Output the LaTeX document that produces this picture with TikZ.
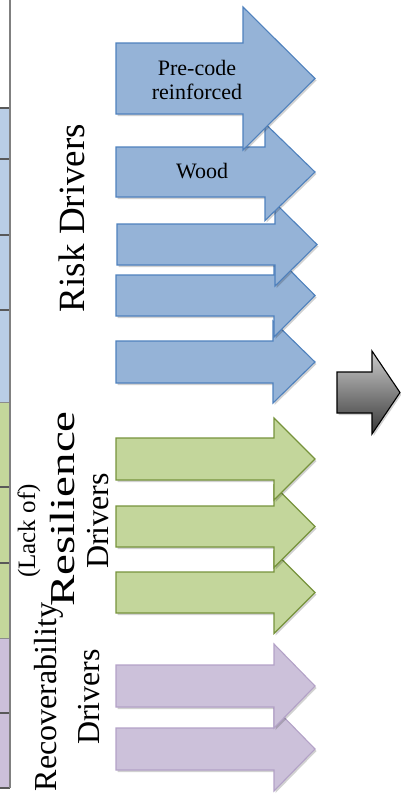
\documentclass[tikz,border=0pt]{standalone}
\usepackage{graphicx}
\usepackage{fontspec}
\setmainfont{Liberation Serif}
\usetikzlibrary{shadows}

\definecolor{blueFill}{HTML}{95B3D7}
\definecolor{blueLine}{HTML}{4F81BD}
\definecolor{greenFill}{HTML}{C3D69B}
\definecolor{greenLine}{HTML}{77933C}
\definecolor{purpFill}{HTML}{CCC1DA}
\definecolor{purpLine}{HTML}{B3A2C7}
\definecolor{stripBlue}{HTML}{B9CDE5}
\definecolor{stripGreen}{HTML}{C4D79B}
\definecolor{stripPurp}{HTML}{CCC0DA}
\definecolor{sepGray}{HTML}{595959}

% block arrow: style, tail x, centre y, shaft half-height, head base x, tip x, head half-height
\newcommand\blockarrow[7]{%
  \path[#1] (#2,#3-#4) -- (#5,#3-#4) -- (#5,#3-#7) -- (#6,#3)
    -- (#5,#3+#7) -- (#5,#3+#4) -- (#2,#3+#4) -- cycle;}

\tikzset{
  softshadow/.style={drop shadow={shadow xshift=1.5pt, shadow yshift=-2pt,
      opacity=0.18, fill=black}},
  riskarrow/.style={softshadow, fill=blueFill, draw=blueLine, line width=1.1pt, line join=miter},
  resarrow/.style={softshadow, fill=greenFill, draw=greenLine, line width=1.1pt, line join=miter},
  recarrow/.style={softshadow, fill=purpFill, draw=purpLine, line width=1.1pt, line join=miter},
  grayarrow/.style={softshadow, top color=black!20, bottom color=black!78,
      draw=black, line width=1.1pt, line join=miter},
  sep/.style={draw=sepGray, line width=1.2pt},
  vlabel/.style={rotate=90, inner sep=0pt, align=center},
}

\begin{document}
\begin{tikzpicture}[x=1pt, y=-1pt]
\useasboundingbox (0,0) rectangle (401,795);
\clip (0,0) rectangle (401,795);

% coloured table edge on the left
\fill[stripBlue]  (0,108) rectangle (10,402);
\fill[stripGreen] (0,402) rectangle (10,638);
\fill[stripPurp]  (0,638) rectangle (10,788);
\foreach \yy in {108,159,235,310,487,563,713,788}
  \draw[sep] (0,\yy) -- (10,\yy);
\draw[draw=black!45, line width=0.6pt] (0,402) -- (10,402);
\draw[draw=black!45, line width=0.6pt] (0,638) -- (10,638);
\draw[draw=black!50, line width=1.6pt] (10,0) -- (10,788);

% risk drivers (drawn from the bottom up so the upper heads overlap)
\blockarrow{riskarrow}{116}{362}{21}{273}{315}{41}
\blockarrow{riskarrow}{116}{295.5}{20.5}{274}{315}{41.5}
\blockarrow{riskarrow}{117}{244.5}{20.5}{275}{317}{41.5}
\blockarrow{riskarrow}{116}{172}{25}{265}{315}{48.5}
\blockarrow{riskarrow}{116}{78.5}{35.5}{243}{315}{71.5}

% resilience drivers
\blockarrow{resarrow}{116}{592.5}{20.5}{274}{315}{41}
\blockarrow{resarrow}{116}{526.5}{20.5}{274}{315}{41}
\blockarrow{resarrow}{116}{459}{21}{274}{315}{41}

% recoverability drivers
\blockarrow{recarrow}{116}{749}{21}{274}{315}{42}
\blockarrow{recarrow}{116}{686}{21}{274}{315}{42}

% result arrow
\blockarrow{grayarrow}{337}{392.5}{20.5}{372}{400}{41.5}

% labels on the arrows
\node[align=center, inner sep=0pt, font=\fontsize{22}{24}\selectfont]
  (precode) at (197,79.5) {Pre-code\\reinforced};
\node[anchor=base, inner sep=0pt, font=\fontsize{22}{24}\selectfont]
  (wood) at (202,178) {Wood};

% group labels
\node[vlabel, anchor=base, font=\fontsize{37}{40}\selectfont]
  (risk) at (84,218) {Risk Drivers};

\node[vlabel, anchor=base, font=\fontsize{25}{28}\selectfont]
  (lackof) at (35,531) {(Lack of)};
\node[vlabel, anchor=base, font=\fontsize{35}{37}\selectfont]
  (resil) at (74,509) {\scalebox{1.34}[1]{Resilience}};
\node[vlabel, anchor=base, font=\fontsize{32}{34}\selectfont]
  (resdrv) at (108,521) {Drivers};

\node[vlabel, font=\fontsize{32}{43}\selectfont]
  (recov) at (67.5,697) {Recoverability\\Drivers};
\end{tikzpicture}
\end{document}
